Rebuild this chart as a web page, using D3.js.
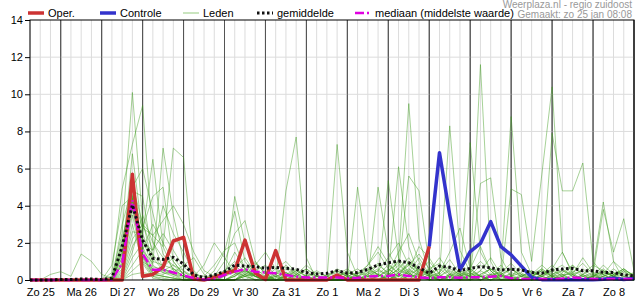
<!DOCTYPE html>
<html>
<head>
<meta charset="utf-8">
<script src="https://cdn.jsdelivr.net/npm/d3@7"></script>
<style>
body{margin:0;background:#fff;}
svg{display:block;font-family:"Liberation Sans",Arial,sans-serif;}
</style>
</head>
<body>
<svg width="635" height="300"></svg>
<script>
// day labels on the x axis (placed at noon)
const dayLabels=["Zo 25","Ma 26","Di 27","Wo 28","Do 29","Vr 30","Za 31","Zo 1","Ma 2","Di 3","Wo 4","Do 5","Vr 6","Za 7","Zo 8"];
const yTicks=[0,2,4,6,8,10,12,14];

// 6-hourly values, first step = zo 25 06:00
const oper=[0,0,0,0,0,0,0,0,0,0, 5.7,0.2,0.3,0.7,2.1,2.3,0.05,0,0.15,0.36,
  0.5,2.15,0.38,0.03,1.58,0,0,0,0,0, 0.27,0,0,0,0,0,0,0,0,1.8];
const controleStart=39;
const controle=[1.8,6.85,3.5,0.54,1.53,1.97,3.14,1.8,1.35,0.75,
  0.14,0.02,0.02,0.02,0.02,0.02,0.02,0.04,0.1,0.03,0.08];
const gemiddelde=[0,0,0,0.03,0.03,0.05,0.05,0.03,0.1,1.8, 4.05,2.15,1.17,1.11,1.22,0.86,0.27,0.13,0.27,0.45,
  0.81,0.75,0.72,0.63,0.68,0.63,0.58,0.4,0.32,0.36, 0.5,0.36,0.4,0.58,0.81,0.93,1.02,0.93,0.66,0.36,
  0.75,0.68,0.5,0.63,0.72,0.66,0.54,0.58,0.54,0.4, 0.36,0.54,0.59,0.63,0.5,0.5,0.41,0.4,0.27,0.22];
const mediaan=[0,0,0,0,0,0,0,0,0,0.9, 4.3,1.4,0.55,0.55,0.4,0.25,0.1,0.02,0.05,0.27,
  0.45,0.58,0.45,0.4,0.36,0.27,0.18,0.14,0.13,0.13, 0.14,0.1,0.12,0.18,0.22,0.22,0.29,0.22,0.14,0.1,
  0.15,0.15,0.12,0.15,0.15,0.18,0.22,0.1,0.05,0.05, 0.05,0.05,0.08,0.13,0.1,0.05,0.05,0.05,0.05,0.05];

// ensemble members (Leden)
const leden=[
[0,0,0,0,0,0,0,0,0.2,2.5, 10.1,3.2,0.8,0.4,0.2,0,0,0,0.3,0.5, 0.6,1.2,0.4,0,0,0.3,0.2,0.5,0,0, 0,0,0.3,0.8,1.5,0.6,0.2,0,0.4,0.2, 0.4,1.1,0.3,0,0.2,0.6,0.2,0.2,0.6,0.1, 0,0,0.3,0.3,1.2,0.4,0,0.2,0.5,0.1],
[0,0,0,0,0,0,0,0,0.4,4.9, 7.3,9.4,2.1,0.6,0.3,0.1,0,0,0,0.2, 0.4,0.2,0,0,0.1,0.4,0,0,0,0, 0.2,0.1,0,0,0,0.2,1.1,9.5,2.2,0.4, 0,0.3,0.2,0.6,1.8,0.5,0,0,0,0.2, 0.4,0.1,0,0,0,0.2,0.8,0.3,0,0],
[0,0,0.3,0.45,0.2,1.4,1.0,0.3,0.1,1.2, 6.8,2.5,6.5,1.8,0.5,0.2,0,0,0,0, 0.3,0.8,0.2,0,0.3,0.6,0.2,0,0,0, 0.2,0.5,0.2,0,0,0.3,0.5,0.3,0.9,0.2, 0,0.2,0,0,0,0.3,0.4,0.9,0.3,0, 0,0,0.2,0.8,0.2,0,0,0.3,0.4,0.2],
[0,0,0,0,0,0,0,0,0,0.8, 5.7,1.6,0.9,7.1,3.5,1.0,0.2,0,0,0, 0,0.3,0.6,0.2,0,0,0,0.3,0.2,0, 0,0,0.4,0.2,0.3,0.8,0.4,0,0.5,1.0, 0.3,8.3,1.6,0.4,0,0.2,0.3,0,0,0, 0.2,0.4,0,0,0.3,0,0.3,1.0,0.5,0],
[0,0,0,0,0,0,0,0,0,2.0, 5.2,3.0,2.4,1.8,7.1,6.6,0.5,0,0,0.4, 1.5,0.6,0,0,0,0.2,0.5,0.2,0,0, 0,0.3,0,0,0.2,0.6,0.2,0.4,1.2,0.3, 0,0,0.4,0.2,0,0.3,0.8,0.2,0,0, 0.2,0.6,1.5,0.4,0,0,0.2,0.4,0,0.3],
[0,0,0,0,0,0,0,0,0,3.0, 5.0,6.0,3.6,1.4,0.6,0.2,0,0,0,0, 4.5,2.0,0.5,0,0.2,0.4,0.1,0,0,0, 0.1,0,0.2,0.5,0.3,0,0.3,0.8,0.4,0, 0,0.2,0,0,0.5,1.2,0.3,0,0.2,0.5, 0.2,0,0,0,0.3,0.6,4.2,1.0,0,0.2],
[0,0,0,0,0,0,0,0,0,1.6, 4.8,4.5,1.2,0.5,0.3,0,0,0,0,0, 0,0.2,0.3,0,0,4.8,7.7,1.2,0,0, 0,0,0,0.3,0.6,0.2,0,0.2,0.3,0.5, 1.2,0.4,0,0.3,0.2,0,0,0.2,0.8,0.2, 0,0.3,0.5,0.2,0,0,0.2,0,0,0],
[0,0,0,0,0,0,0,0,0,2.2, 4.6,2.8,4.5,5.0,1.0,0.3,0,0,0,0, 0,0.4,1.0,0.3,0,0,0,0,0.2,0, 7.3,1.5,0.2,0,0.2,0.5,0.9,0.3,0,0, 0.2,0.5,0.2,0,0,0.2,0.4,0,0,0.3, 0.8,0.3,0,0.2,0.6,0.2,0,0,0.2,0.4],
[0,0,0,0,0,0,0,0,0.8,4.0, 4.5,2.2,0.7,0.6,0.4,0.2,0,0,0.5,1.5, 3.7,1.0,0.3,0,0,0.2,0.4,0,0,0, 0,0,5.0,1.0,0.2,0,0.3,0.6,0.2,0, 0,0.3,0.9,0.4,0,0,0.2,0.3,0,0, 0,0,0.2,0.4,0.9,0.3,0,0,0,0.2],
[0,0,0,0,0,0,0,0,0,1.8, 4.5,2.0,1.6,4.0,2.5,1.5,0.4,0,0,0, 0,0.5,0.3,0,0.2,0,0,0,0,0.3, 0.5,0.2,0,0,5.0,1.5,0.5,5.6,4.8,0.8, 0,0,0.2,0.5,0.2,0,0,0.4,0.2,0, 0.3,0.6,0.2,0,0,0.2,0.5,0.2,0,0],
[0,0,0,0,0,0,0,0,0,1.5, 4.4,1.8,0.55,0.5,0.8,0.3,0,0,0,0, 0.2,0.6,0.2,0,0.3,0.8,0.3,0,0,0, 0,0,0.2,0.4,0.2,5.35,1.2,0.4,0,0.3, 0.6,0.2,0,7.4,1.5,0.5,0,0,0.2,0.4, 0.2,0,0,0.3,0.5,0,0,0.2,0.3,0],
[0,0,0,0,0,0,0,0,0,1.4, 4.4,1.6,0.5,0.7,1.2,0.5,0,0,0,0, 0,0.2,0.5,0.8,0.3,0,0,0,0.2,0.2, 0,0,0,0.2,0.5,0.3,6.1,1.8,0.2,0, 0,0.3,0.5,0.3,11.6,1.0,0,0,0,0.2, 0.5,0.2,0,0,0.2,0.4,0.3,0,0,0.2],
[0,0,0,0,0,0,0,0,0,1.2, 4.3,1.4,0.4,0.3,0.6,0.2,0,0,0,0.3, 0.8,0.3,0,0,0,0.3,0.6,0.2,0,0, 0.2,0.4,0.2,0,0,0.3,0.8,0.3,0.6,0.3, 0,0.2,0.4,0.2,5.2,5.5,1.2,0.2,0,0, 0,0,0.4,0.8,0.3,0,0.2,0.6,0.2,0],
[0,0,0,0,0,0,0,0,0,1.0, 4.2,1.3,0.35,0.2,0.1,0,0,0,0,0.5, 1.0,0.4,0.2,0,0,0,0.3,0.8,0.3,0, 0,0.3,0.6,0.2,0,0,0.4,0.9,0.5,0.2, 0,0,0.3,0.2,0,0.2,0.5,8.8,1.5,0.3, 0,0.2,0.3,0,0,0.2,0,0.3,0.6,0.2],
[0,0,0,0,0,0,0,0,0,0.9, 4.0,1.3,0.3,0.2,0.1,0,0,0,0,0, 0.3,0.5,0.2,0,0.2,0.4,0.2,0,0,0.2, 0.4,0.2,0,0,0,0.2,0.6,0.3,0.2,0, 0.3,0.8,0.2,0,0,0.2,0,4.9,4.6,1.0, 5.7,10.4,1.5,0.3,0,0.2,0.5,0.2,0,0],
[0,0,0,0,0,0,0,0,0,0.8, 3.8,1.2,0.2,0.1,0,0,0,0,0,0.2, 0.5,0.2,0,0,0.4,0.7,0.3,0,0,0, 0,0.2,0.4,0.6,0.3,0,0.2,0.5,0.3,0.6, 0.9,0.3,0,0,0.2,0.3,0.2,0,0.3,0.2, 0.5,7.9,4.8,4.8,6.3,1.0,0.3,0,0,0.2],
[0,0,0,0,0,0,0,0,0,0.6, 3.5,1.0,0.2,0,0,0,0,0,0,0, 0.2,0.6,0.9,0.4,0,0,0,0.2,0.4,0.2, 0,0,0,0.3,0.8,0.4,0,0,0.2,0.4, 0.2,0,0.3,0.6,0.2,0,0,0.2,0.4,0, 0,0.2,0.5,0.3,0,0.3,3.8,1.5,3.3,0.5],
[0,0,0,0,0,0,0,0,0,0.5, 3.0,0.9,0.1,0,0,0,0,0,0,0, 0,0.3,0.2,0,0,0.2,0.5,0.2,0,0, 0.3,0.6,0.2,0,0,0.2,0.6,1.2,0.4,0, 0,0.2,0.5,0.2,0,0,0.3,0.6,0.2,0, 0.3,0.5,0.2,0,0,0,0.2,0.4,0.2,0],
[0,0,0,0,0,0,0,0,0,0.4, 2.6,2.5,1.0,0.8,0.6,0.4,0.2,0,0.2,1.0, 2.5,3.2,1.0,0.3,0,0,0,0,0,0, 0,0,0,0,0.2,0.5,1.0,0.4,0,0, 0.4,1.5,2.8,0.6,0.2,0,0,0,0.2,0.5, 0.2,0,0,0,0.2,0.3,0,0,0,0],
[0,0,0,0,0,0,0,0,0,0.3, 2.2,3.0,1.6,2.5,1.6,0.7,0.3,0.2,0.8,1.6, 2.0,0.6,0.2,0,0,0,0.2,0.6,0.2,0, 0,0,0.3,0.8,1.8,0.9,0.3,0,0,0.3, 0.8,0.3,0,0,0.3,0.6,0.2,0,0,0, 0.3,0.8,0.3,0,0,0.2,0.4,0.2,0.5,0.3],
[0,0,0,0,0,0,0,0,0,0.2, 1.8,2.8,2.4,3.2,4.0,3.0,1.5,0.5,0.2,0, 0,0,0.3,0.5,0.2,0,0,0,0,0.2, 0.6,0.3,0,0,0,0.4,1.5,2.5,1.0,0.2, 0,0,0,0.2,0.8,0.3,0,0,0,0.2, 0.6,0.2,0,0,0.3,0.8,0.5,0.2,0,0],
[0,0,0,0,0,0,0,0,0,0.1, 1.5,3.5,2.0,1.2,0.8,0.5,0.2,0.8,2.0,1.2, 0.4,0,0,0.2,0.6,1.0,0.4,0,0,0, 0,0,0,0.2,0.5,1.2,2.0,0.8,0.3,0, 0.2,0.6,0.3,0,0,0,0.3,0.6,0.2,0, 0,0,0.2,0.5,0.2,0,0,0.2,0.6,0.2],
[0,0,0,0,0,0,0,0,0,0, 1.2,2.0,1.4,0.6,0.4,0.8,1.2,0.3,0,0, 0,0.3,0.8,1.5,0.6,0.2,0,0,0,0.2, 0.5,0.2,0,0,0,0,0.4,0.8,1.4,0.6, 0.2,0,0,0.4,1.0,0.5,0,0,0,0.3, 0.6,0.2,0,0,0,0.2,0.6,0.2,0,0.3],
[0,0,0,0,0,0,0,0,0,0, 0.8,1.6,3.0,2.0,1.0,0.3,0,0,0,0, 0,0.2,0.4,0.2,0,0,0,0.2,0.5,0.2, 0,0,0,0.4,0.9,0.3,0,0.5,1.8,1.2, 0.3,0,0,0.2,0.5,0.2,0,0,0,0, 0.2,0.5,0.8,0.3,0,0,0,0.3,0.6,0.2],
[0,0,0,0,0,0,0,0,0,0, 0.5,1.0,0.6,0.4,0.3,0.2,0,0,0,0, 0.2,0.5,0.2,0,0,0,0.3,0.6,0.2,0, 0,0,0.2,0.6,0.3,0,0.2,1.0,0.6,0.3, 0.2,0,0.2,0.4,0.2,0,0.2,0.6,0.3,0, 0,0.3,0.6,0.2,0,0,0.4,0.2,0,0],
[0,0,0,0,0,0,0,0,0,0, 0.3,0.4,0.3,0.2,0.1,0,0,0,0,0, 0,0,0,0.2,0.4,0.2,0,0,0,0, 0.2,0.4,0.2,0,0,0,0,0.2,0.6,0.2, 0,0,0,0,0.3,0.6,0.3,0,0,0.2, 0.5,0.2,0,0,0,0.2,0.3,0,0,0]
];

const startTime=new Date(Date.UTC(2026,0,25,6));
const endTime=new Date(Date.UTC(2026,1,9,0));
const times=d3.utcHour.every(6).range(startTime,d3.utcHour.offset(endTime,1));

let svg=d3.select("svg");
let x=d3.scaleUtc().domain([startTime,endTime]).range([30,634]);
let y=d3.scaleLinear().domain([0,14]).range([280,20]);

// grid
let grid=svg.append("g");
for(let i=0;i<times.length;i++){
  let t=times[i];
  grid.append("line")
      .attr("x1",x(t)).attr("x2",x(t))
      .attr("y1",20).attr("y2",280)
      .attr("stroke",t.getUTCHours()==0?"#555":"#dcdcdc")
      .attr("stroke-width",1);
}
for(let i=1;i<yTicks.length-1;i++){
  grid.append("line")
      .attr("x1",30).attr("x2",634)
      .attr("y1",y(yTicks[i])).attr("y2",y(yTicks[i]))
      .attr("stroke","#dcdcdc");
}
// re-draw dark day lines on top of light horizontals
for(let i=0;i<times.length;i++){
  if(times[i].getUTCHours()!=0) continue;
  grid.append("line")
      .attr("x1",x(times[i])).attr("x2",x(times[i]))
      .attr("y1",20).attr("y2",280)
      .attr("stroke","#555");
}

function lineFor(offset){
  return d3.line()
    .defined(d=>d!=null)
    .x((d,i)=>x(times[i+offset]))
    .y(d=>y(d));
}

let plot=svg.append("g");
for(let m=0;m<leden.length;m++){
  plot.append("path")
      .attr("d",lineFor(0)(leden[m]))
      .attr("fill","none")
      .attr("stroke","#3a9a18")
      .attr("stroke-opacity",0.45)
      .attr("stroke-width",1);
}
plot.append("path")
    .attr("d",lineFor(controleStart)(controle))
    .attr("fill","none")
    .attr("stroke","#3333cc")
    .attr("stroke-width",3.5)
    .attr("stroke-linejoin","round");
plot.append("path")
    .attr("d",lineFor(0)(oper))
    .attr("fill","none")
    .attr("stroke","#cc3333")
    .attr("stroke-width",3.5)
    .attr("stroke-linejoin","round");
plot.append("path")
    .attr("d",lineFor(0)(mediaan))
    .attr("fill","none")
    .attr("stroke","#e000e0")
    .attr("stroke-width",2.5)
    .attr("stroke-dasharray","9,3,2,3");
plot.append("path")
    .attr("d",lineFor(0)(gemiddelde))
    .attr("fill","none")
    .attr("stroke","#111")
    .attr("stroke-width",3)
    .attr("stroke-dasharray","2.5,2.5");

// frame
svg.append("rect")
   .attr("x",30).attr("y",20)
   .attr("width",604).attr("height",260)
   .attr("fill","none")
   .attr("stroke","#000");

// axes
let yAxis=svg.append("g")
   .attr("transform","translate(30,0)")
   .call(d3.axisLeft(y).tickValues(yTicks).tickSize(5).tickPadding(2));
yAxis.select(".domain").remove();
yAxis.selectAll("text").style("font-size","11px").attr("fill","#000");

let noonTicks=dayLabels.map((d,i)=>d3.utcHour.offset(new Date(Date.UTC(2026,0,25,12)),24*i));
let xAxis=svg.append("g")
   .attr("transform","translate(0,280)")
   .call(d3.axisBottom(x).tickValues(noonTicks).tickSize(0).tickPadding(8)
        .tickFormat((d,i)=>dayLabels[i]));
xAxis.select(".domain").remove();
xAxis.selectAll("text").style("font-size","11px").attr("fill","#000");

// legend
let legend=svg.append("g").style("font-size","11px");
function legendItem(x1,label,stroke,width,dash){
  legend.append("line")
        .attr("x1",x1).attr("x2",x1+16)
        .attr("y1",13).attr("y2",13)
        .attr("stroke",stroke)
        .attr("stroke-width",width)
        .attr("stroke-dasharray",dash);
  legend.append("text")
        .attr("x",x1+20).attr("y",17)
        .text(label);
}
legendItem(28,"Oper.","#cc3333",3.5,null);
legendItem(100,"Controle","#3333cc",3.5,null);
legendItem(183,"Leden","#b8dcaa",1.5,null);
legendItem(257,"gemiddelde","#111",3,"2.5,2.5");
legendItem(355,"mediaan (middelste waarde)","#e000e0",2.5,"9,3,2,3");

svg.append("text")
   .attr("x",632).attr("y",8)
   .attr("text-anchor","end")
   .style("font-size","10px")
   .attr("fill","#999")
   .text("Weerplaza.nl - regio zuidoost");
svg.append("text")
   .attr("x",632).attr("y",18)
   .attr("text-anchor","end")
   .style("font-size","10px")
   .attr("fill","#999")
   .text("Gemaakt: zo 25 jan 08:08");
</script>
</body>
</html>
